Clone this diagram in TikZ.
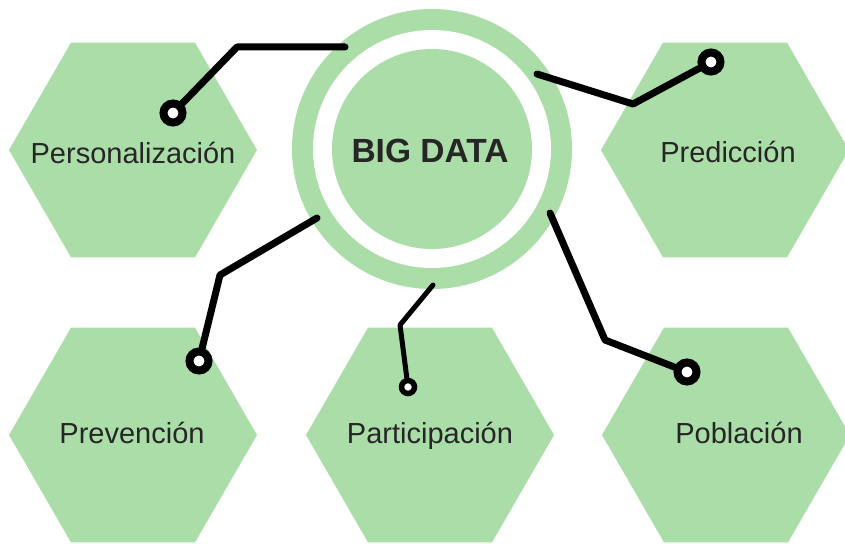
\documentclass[tikz,border=0pt]{standalone}
\usepackage{fontspec}
\setmainfont{Liberation Sans}
\usetikzlibrary{shapes.geometric}
\definecolor{hexgreen}{RGB}{170,221,167}
\definecolor{txt}{RGB}{38,38,38}

\begin{document}
\begin{tikzpicture}[x=1pt, y=-1pt,
        hexa/.style={regular polygon, regular polygon sides=6, minimum size=248pt, inner sep=0pt, fill=hexgreen},
        lbl/.style={anchor=base, text=txt, font=\fontsize{29}{34}\selectfont},
        wire/.style={line width=7pt, line cap=round, line join=round},
        knob/.style={circle, draw, fill=white, line width=8pt, minimum size=19pt, inner sep=0pt},
        smallknob/.style={knob, line width=5.5pt, minimum size=13pt}]
        \useasboundingbox (0,0) rectangle (845,543);
        \clip (0,0) rectangle (845,543);
        % hexagons
        \node[hexa] (pers) at (133,150) {};
        \node[hexa] (pred) at (725,150) {};
        \node[hexa] (prev) at (133,435) {};
        \node[hexa] (part) at (430,435) {};
        \node[hexa] (pobl) at (726,435) {};
        % centre
        \node[circle, fill=hexgreen, minimum size=280pt, inner sep=0pt] (big) at (432,149) {};
        \node[circle, fill=white, minimum size=238pt, inner sep=0pt] (gap) at (big.center) {};
        \node[circle, fill=hexgreen, minimum size=200pt, inner sep=0pt] (core) at (big.center) {};
        \node[lbl, font=\bfseries\fontsize{33.5}{40}\selectfont] (bigtxt) at (430,162) {BIG DATA};
        \node[lbl] (perstxt) at (133,163) {Personalización};
        \node[lbl] (predtxt) at (728,162) {Predicción};
        \node[lbl] (prevtxt) at (132,443) {Prevención};
        \node[lbl] (parttxt) at (430,443) {Participación};
        \node[lbl] (pobltxt) at (739,443) {Población};
        % connectors
        \coordinate (pers1) at (345,47);
        \coordinate (pers2) at (237,47);
        \node[knob] (persdot) at (173,113) {};
        \draw[wire] (pers1) -- (pers2) -- (persdot);
        \coordinate (pred1) at (537,74);
        \coordinate (pred2) at (633,104);
        \node[knob] (preddot) at (711,62) {};
        \draw[wire] (pred1) -- (pred2) -- (preddot);
        \coordinate (prev1) at (317,218);
        \coordinate (prev2) at (220,275);
        \node[knob] (prevdot) at (199,361) {};
        \draw[wire] (prev1) -- (prev2) -- (prevdot);
        \coordinate (part1) at (433,285);
        \coordinate (part2) at (400,325);
        \node[smallknob] (partdot) at (408,387) {};
        \draw[wire, line width=5pt] (part1) -- (part2) -- (partdot);
        \coordinate (pobl1) at (550,213);
        \coordinate (pobl2) at (605,340);
        \node[knob] (pobldot) at (687,372) {};
        \draw[wire] (pobl1) -- (pobl2) -- (pobldot);
    \end{tikzpicture}
\end{document}
